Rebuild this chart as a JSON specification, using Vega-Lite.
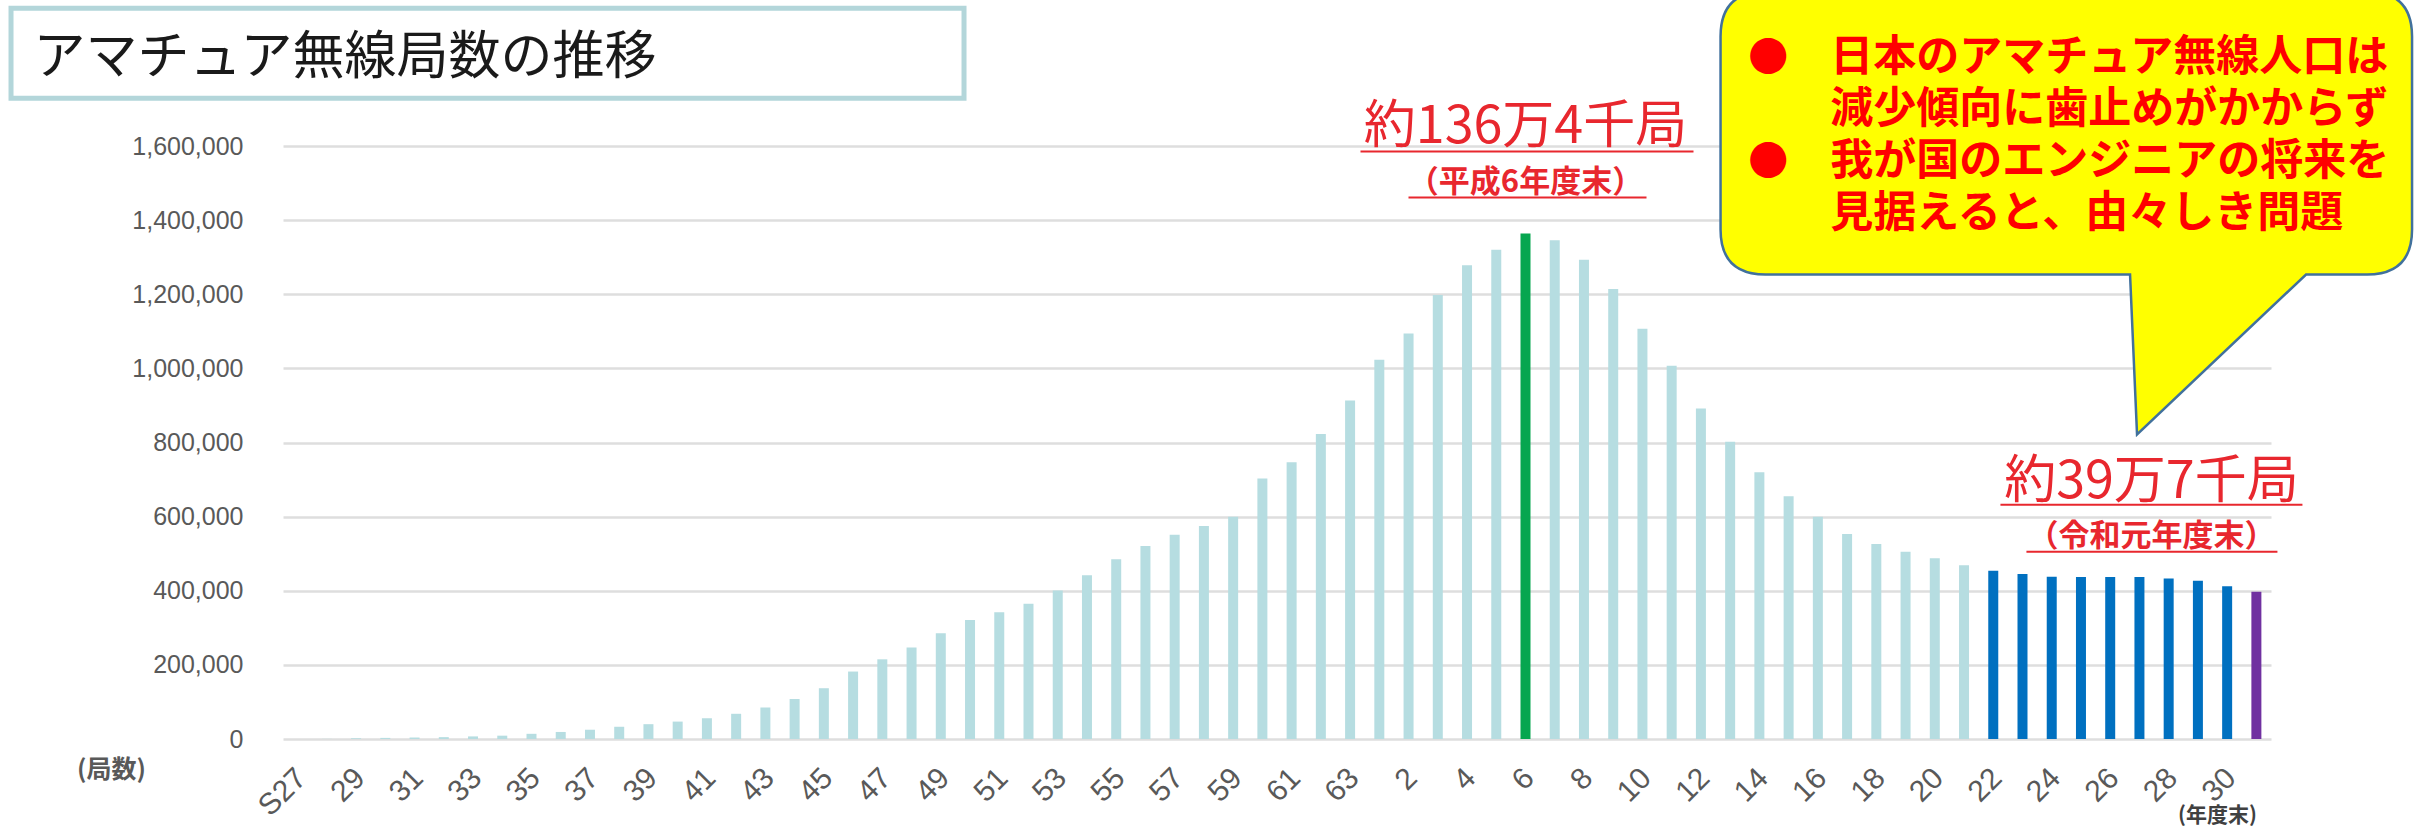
{
  "$schema": "https://vega.github.io/schema/vega-lite/v6.json",
  "width": 1988,
  "height": 593,
  "autosize": "none",
  "padding": {"left": 283, "top": 146, "right": 143, "bottom": 90},
  "background": "white",
  "config": {"view": {"stroke": null}, "font": "Liberation Sans"},
  "datasets": {
    "stations": [
      {"fy": "S27", "n": 30}, {"fy": "S28", "n": 300}, {"fy": "S29", "n": 2000}, {"fy": "S30", "n": 3000},
      {"fy": "S31", "n": 4000}, {"fy": "S32", "n": 5000}, {"fy": "S33", "n": 7000}, {"fy": "S34", "n": 9000},
      {"fy": "S35", "n": 14000}, {"fy": "S36", "n": 19000}, {"fy": "S37", "n": 25000}, {"fy": "S38", "n": 33000},
      {"fy": "S39", "n": 40000}, {"fy": "S40", "n": 47000}, {"fy": "S41", "n": 56000}, {"fy": "S42", "n": 68000},
      {"fy": "S43", "n": 85000}, {"fy": "S44", "n": 108000}, {"fy": "S45", "n": 137000}, {"fy": "S46", "n": 182000},
      {"fy": "S47", "n": 215000}, {"fy": "S48", "n": 247000}, {"fy": "S49", "n": 285000}, {"fy": "S50", "n": 321000},
      {"fy": "S51", "n": 342000}, {"fy": "S52", "n": 365000}, {"fy": "S53", "n": 401000}, {"fy": "S54", "n": 442000},
      {"fy": "S55", "n": 485000}, {"fy": "S56", "n": 521000}, {"fy": "S57", "n": 551000}, {"fy": "S58", "n": 575000},
      {"fy": "S59", "n": 600000}, {"fy": "S60", "n": 703000}, {"fy": "S61", "n": 747000}, {"fy": "S62", "n": 823000},
      {"fy": "S63", "n": 913000},
      {"fy": "H1", "n": 1023000}, {"fy": "H2", "n": 1094000}, {"fy": "H3", "n": 1198000}, {"fy": "H4", "n": 1278000},
      {"fy": "H5", "n": 1320000}, {"fy": "H6", "n": 1364000}, {"fy": "H7", "n": 1346000}, {"fy": "H8", "n": 1293000},
      {"fy": "H9", "n": 1214000}, {"fy": "H10", "n": 1107000}, {"fy": "H11", "n": 1007000}, {"fy": "H12", "n": 892000},
      {"fy": "H13", "n": 802000}, {"fy": "H14", "n": 720000}, {"fy": "H15", "n": 655000}, {"fy": "H16", "n": 600000},
      {"fy": "H17", "n": 553000}, {"fy": "H18", "n": 526000}, {"fy": "H19", "n": 505000}, {"fy": "H20", "n": 488000},
      {"fy": "H21", "n": 469000}, {"fy": "H22", "n": 454000}, {"fy": "H23", "n": 445000}, {"fy": "H24", "n": 438000},
      {"fy": "H25", "n": 437000}, {"fy": "H26", "n": 437000}, {"fy": "H27", "n": 437000}, {"fy": "H28", "n": 433000},
      {"fy": "H29", "n": 427000}, {"fy": "H30", "n": 412000},
      {"fy": "R1", "n": 397000}
    ]
  },
  "layer": [
    {
      "data": {"name": "stations"},
      "mark": {"type": "bar"},
      "encoding": {
        "x": {
          "field": "fy",
          "type": "nominal",
          "sort": null,
          "scale": {"paddingInner": 0.658, "paddingOuter": 0.329},
          "axis": {
            "title": "(年度末)",
            "values": ["S27", "S29", "S31", "S33", "S35", "S37", "S39", "S41", "S43", "S45", "S47", "S49", "S51", "S53", "S55", "S57", "S59", "S61", "S63", "H2", "H4", "H6", "H8", "H10", "H12", "H14", "H16", "H18", "H20", "H22", "H24", "H26", "H28", "H30"],
            "labelExpr": "datum.value == 'S27' ? 'S27' : slice(datum.value, 1)",
            "labelAngle": -45,
            "labelAlign": "right",
            "labelBaseline": "middle",
            "labelFontSize": 30,
            "labelColor": "#595959",
            "labelFont": "Liberation Sans",
            "labelPadding": 34,
            "labelOffset": 4,
            "labelOverlap": false,
            "labelBound": false,
            "ticks": false,
            "domain": false,
            "grid": false,
            "titleX": 1934,
            "titleY": 76,
            "titleAngle": 0,
            "titleAlign": "center",
            "titleBaseline": "middle",
            "titleFontSize": 21,
            "titleFont": "Noto Sans CJK JP",
            "titleFontWeight": 700,
            "titleColor": "#404040"
          }
        },
        "y": {
          "field": "n",
          "type": "quantitative",
          "scale": {"domain": [0, 1600000], "nice": false},
          "axis": {
            "title": "(局数)",
            "values": [0, 200000, 400000, 600000, 800000, 1000000, 1200000, 1400000, 1600000],
            "format": ",.0f",
            "labelFontSize": 25,
            "labelColor": "#595959",
            "labelFont": "Liberation Sans",
            "labelPadding": 40,
            "ticks": false,
            "domain": false,
            "grid": true,
            "gridColor": "#dedede",
            "gridWidth": 2.5,
            "titleAngle": 0,
            "titleX": -172,
            "titleY": 623,
            "titleAlign": "center",
            "titleBaseline": "middle",
            "titleFontSize": 25,
            "titleFont": "Noto Sans CJK JP",
            "titleFontWeight": 700,
            "titleColor": "#595959"
          }
        },
        "color": {
          "condition": [
            {"test": "datum.fy == 'H6'", "value": "#06a64f"},
            {"test": "datum.fy == 'R1'", "value": "#7030a0"},
            {"test": "indexof(['H22','H23','H24','H25','H26','H27','H28','H29','H30'], datum.fy) >= 0", "value": "#0070c0"}
          ],
          "value": "#b6dde1"
        }
      }
    },
    {
      "data": {"values": [{}]},
      "mark": {"type": "point", "shape": "M-2.866,-1.378 L6.664,-1.378 L6.664,-0.478 L-2.866,-0.478 Z", "size": 40000, "filled": false, "stroke": "#b3d6da", "strokeWidth": 5, "opacity": 1},
      "encoding": {"x": {"datum": "S27"}, "y": {"datum": 1600000}}
    },
    {
      "data": {"values": [{}]},
      "mark": {"type": "text", "text": "アマチュア無線局数の推移", "font": "Noto Sans CJK JP", "fontSize": 52, "fontWeight": 400, "color": "#1a1a1a", "align": "left", "baseline": "alphabetic", "dx": -264, "dy": -72},
      "encoding": {"x": {"datum": "S27"}, "y": {"datum": 1600000}}
    },
    {
      "data": {"values": [{}]},
      "mark": {"type": "point", "shape": "M0.354,-1.545 L6.369,-1.545 Q6.819,-1.545 6.819,-1.095 L6.819,0.835 Q6.819,1.285 6.369,1.285 L5.759,1.285 L4.069,2.885 L3.999,1.285 L0.354,1.285 Q-0.096,1.285 -0.096,0.835 L-0.096,-1.095 Q-0.096,-1.545 0.354,-1.545 Z", "size": 40000, "filled": true, "fill": "#ffff00", "stroke": "#41719c", "strokeWidth": 2.5, "opacity": 1},
      "encoding": {"x": {"datum": "H13"}, "y": {"datum": 1600000}}
    },
    {
      "data": {"values": [{}]},
      "mark": {"type": "text", "text": ["日本のアマチュア無線人口は", "減少傾向に歯止めがかからず", "我が国のエンジニアの将来を", "見据えると、由々しき問題"], "font": "Noto Sans CJK JP", "fontSize": 43, "fontWeight": 700, "lineHeight": 52, "color": "#ff0000", "align": "left", "baseline": "alphabetic", "dx": 100, "dy": -75.5},
      "encoding": {"x": {"datum": "H13"}, "y": {"datum": 1600000}}
    },
    {
      "data": {"values": [{}]},
      "mark": {"type": "text", "text": "●", "font": "Noto Sans CJK JP", "fontSize": 40, "color": "#ff0000", "align": "center", "baseline": "alphabetic", "dx": 38, "dy": -75.5},
      "encoding": {"x": {"datum": "H13"}, "y": {"datum": 1600000}}
    },
    {
      "data": {"values": [{}]},
      "mark": {"type": "text", "text": "●", "font": "Noto Sans CJK JP", "fontSize": 40, "color": "#ff0000", "align": "center", "baseline": "alphabetic", "dx": 38, "dy": 28.5},
      "encoding": {"x": {"datum": "H13"}, "y": {"datum": 1600000}}
    },
    {
      "data": {"values": [{}]},
      "mark": {"type": "text", "text": "約136万4千局", "font": "Noto Sans CJK JP", "fontSize": 52, "fontWeight": 400, "color": "#e8272e", "align": "center", "baseline": "alphabetic", "dy": -90},
      "encoding": {"x": {"datum": "H6"}, "y": {"datum": 1364000}}
    },
    {
      "data": {"values": [{}]},
      "mark": {"type": "text", "text": "（平成6年度末）", "font": "Noto Sans CJK JP", "fontSize": 31, "fontWeight": 700, "color": "#e8272e", "align": "center", "baseline": "alphabetic", "dy": -41},
      "encoding": {"x": {"datum": "H6"}, "y": {"datum": 1364000}}
    },
    {
      "data": {"values": [{}]},
      "mark": {"type": "rule", "color": "#e8272e", "strokeWidth": 2, "xOffset": -165, "x2Offset": 168, "yOffset": -82},
      "encoding": {"x": {"datum": "H6"}, "x2": {"datum": "H6"}, "y": {"datum": 1364000}}
    },
    {
      "data": {"values": [{}]},
      "mark": {"type": "rule", "color": "#e8272e", "strokeWidth": 2, "xOffset": -117, "x2Offset": 121, "yOffset": -36},
      "encoding": {"x": {"datum": "H6"}, "x2": {"datum": "H6"}, "y": {"datum": 1364000}}
    },
    {
      "data": {"values": [{}]},
      "mark": {"type": "text", "text": "約39万7千局", "font": "Noto Sans CJK JP", "fontSize": 52, "fontWeight": 400, "color": "#e8272e", "align": "center", "baseline": "alphabetic", "dx": 12, "dy": -94},
      "encoding": {"x": {"datum": "H27"}, "y": {"datum": 397000}}
    },
    {
      "data": {"values": [{}]},
      "mark": {"type": "text", "text": "（令和元年度末）", "font": "Noto Sans CJK JP", "fontSize": 31, "fontWeight": 700, "color": "#e8272e", "align": "center", "baseline": "alphabetic", "dx": 12, "dy": -46},
      "encoding": {"x": {"datum": "H27"}, "y": {"datum": 397000}}
    },
    {
      "data": {"values": [{}]},
      "mark": {"type": "rule", "color": "#e8272e", "strokeWidth": 2, "xOffset": -139, "x2Offset": 163, "yOffset": -87},
      "encoding": {"x": {"datum": "H27"}, "x2": {"datum": "H27"}, "y": {"datum": 397000}}
    },
    {
      "data": {"values": [{}]},
      "mark": {"type": "rule", "color": "#e8272e", "strokeWidth": 2, "xOffset": -113, "x2Offset": 138, "yOffset": -40},
      "encoding": {"x": {"datum": "H27"}, "x2": {"datum": "H27"}, "y": {"datum": 397000}}
    }
  ]
}
